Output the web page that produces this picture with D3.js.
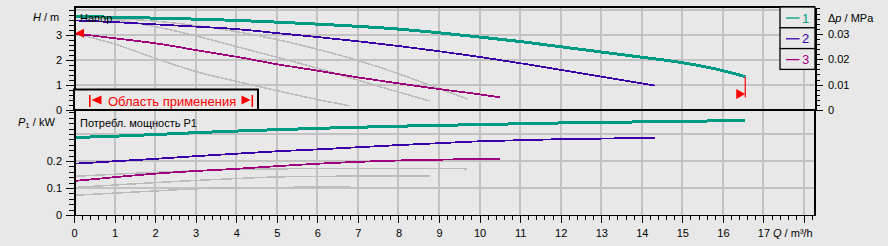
<!DOCTYPE html>
<html>
<head>
<meta charset="utf-8">
<script src="https://cdn.jsdelivr.net/npm/d3@7"></script>
<style>
  body { margin: 0; background: #e8e8e8; }
  svg { display: block; font-family: "Liberation Sans", Arial, sans-serif; }
</style>
</head>
<body>
<svg id="chart" width="888" height="246"></svg>
<script>
// Pump curves: head H (top) and power input P1 (bottom) against flow Q.

// speed 1 / 2 / 3 — flow, head, power input
const q1 = [0, 1, 2, 3, 4, 5, 6, 7, 8, 9, 10, 11, 12, 13, 14, 15, 16, 16.55];
const h1 = [3.75, 3.73, 3.69, 3.65, 3.60, 3.53, 3.45, 3.36, 3.25, 3.10, 2.93, 2.75, 2.54, 2.33, 2.12, 1.90, 1.58, 1.34];
const p1 = [0.287, 0.292, 0.298, 0.305, 0.311, 0.316, 0.321, 0.325, 0.329, 0.332, 0.335, 0.338, 0.341, 0.343, 0.345, 0.347, 0.349, 0.350];

const q2 = [0, 1, 2, 3, 4, 5, 6, 7, 8, 9, 10, 11, 12, 13, 14, 14.33];
const h2 = [3.60, 3.53, 3.44, 3.35, 3.25, 3.09, 2.93, 2.76, 2.57, 2.36, 2.13, 1.88, 1.61, 1.34, 1.07, 0.98];
const p2 = [0.190, 0.199, 0.208, 0.218, 0.227, 0.236, 0.243, 0.251, 0.259, 0.266, 0.273, 0.277, 0.281, 0.283, 0.285, 0.285];

const q3 = [0, 1, 2, 3, 4, 5, 6, 7, 8, 9, 10, 10.5];
const h3 = [3.08, 2.88, 2.68, 2.41, 2.14, 1.84, 1.58, 1.31, 1.07, 0.84, 0.63, 0.51];
const p3 = [0.126, 0.140, 0.153, 0.163, 0.171, 0.181, 0.190, 0.197, 0.202, 0.205, 0.207, 0.207];

// thin grey reference curves
const qGa = [0, 1, 2, 3, 4, 5, 6, 7, 8, 9, 9.4, 9.7];
const hGa = [3.71, 3.67, 3.57, 3.39, 3.15, 2.83, 2.44, 1.99, 1.46, 0.86, 0.62, 0.44];
const pGa = [0.143, 0.151, 0.158, 0.164, 0.169, 0.171, 0.172, 0.173, 0.173, 0.173, 0.173, 0.170];

const qGb = [0, 1, 2, 3, 4, 5, 6, 7, 8, 8.78];
const hGb = [3.72, 3.62, 3.35, 2.98, 2.55, 2.12, 1.68, 1.20, 0.72, 0.36];
const pGb = [0.102, 0.111, 0.120, 0.128, 0.135, 0.141, 0.143, 0.144, 0.145, 0.145];

const qGc = [0, 1, 2, 3, 4, 5, 6, 6.8];
const hGc = [3.08, 2.65, 2.08, 1.55, 1.15, 0.78, 0.42, 0.17];
const pGc = [0.073, 0.081, 0.089, 0.097, 0.101, 0.102, 0.104, 0.106];

// end-of-range marker on curve 1 (head of the red arrow, lower end of the red bar)
const markerH = 0.64;
const markerLowH = 0.51;

const legendNames = ["1", "2", "3"];
const colors = ["#009b84", "#3a00aa", "#a0007c"];
const widths = [3, 1.8, 1.8];

const hTicks = [0, 1, 2, 3];
const pTicks = [0, 0.1, 0.2];
const dpTicks = [0, 0.01, 0.02, 0.03];
const qTicks = d3.range(0, 19);

const svg = d3.select("#chart");
const bg = "#e8e8e8";

const x = d3.scaleLinear().domain([0, 18.27]).range([74, 815]);
const yH = d3.scaleLinear().domain([0, 4.137]).range([110, 7]);
const yDp = d3.scaleLinear().domain([0, 4.137 * 0.00981]).range([110, 7]);
const yP = d3.scaleLinear().domain([0, 0.389]).range([215, 110]);

// grid
const grid = svg.append("g").attr("stroke", "#c2c2c2").attr("stroke-width", 2).attr("shape-rendering", "crispEdges");
grid.selectAll(".vg").data(qTicks.slice(1)).enter().append("line")
  .attr("x1", d => x(d)).attr("x2", d => x(d)).attr("y1", 7).attr("y2", 215);
grid.selectAll(".hg").data([1, 2, 3, 4]).enter().append("line")
  .attr("x1", 74).attr("x2", 815).attr("y1", d => yH(d)).attr("y2", d => yH(d));
grid.selectAll(".pg").data([0.1, 0.2, 0.3]).enter().append("line")
  .attr("x1", 74).attr("x2", 815).attr("y1", d => yP(d)).attr("y2", d => yP(d));

const lineH = d3.line().x(d => x(d[0])).y(d => yH(d[1])).curve(d3.curveMonotoneX);
const lineP = d3.line().x(d => x(d[0])).y(d => yP(d[1])).curve(d3.curveMonotoneX);

// grey curves
const greys = [[qGa, hGa, pGa], [qGb, hGb, pGb], [qGc, hGc, pGc]];
greys.forEach(([q, h, p]) => {
  svg.append("path").attr("d", lineH(d3.zip(q, h)))
    .attr("fill", "none").attr("stroke", "#bcbcbc").attr("stroke-width", 1.5).attr("shape-rendering", "crispEdges");
  svg.append("path").attr("d", lineP(d3.zip(q, p)))
    .attr("fill", "none").attr("stroke", "#bcbcbc").attr("stroke-width", 1.5).attr("shape-rendering", "crispEdges");
});

// coloured curves, drawn 3 → 1 so the thick one lies on top
const main = [[q1, h1, p1], [q2, h2, p2], [q3, h3, p3]];
[2, 1, 0].forEach(i => {
  const [q, h, p] = main[i];
  svg.append("path").attr("d", lineH(d3.zip(q, h)))
    .attr("fill", "none").attr("stroke", colors[i]).attr("stroke-width", widths[i]).attr("shape-rendering", "crispEdges");
  svg.append("path").attr("d", lineP(d3.zip(q, p)))
    .attr("fill", "none").attr("stroke", colors[i]).attr("stroke-width", widths[i]).attr("shape-rendering", "crispEdges");
});

// red range markers
const red = "#ff0000";
const lx = x(q3[0]) + 1, ly = yH(h3[0]);
svg.append("path").attr("d", `M${lx},${ly} L${lx + 9},${ly - 4.5} L${lx + 9},${ly + 4.5} Z`).attr("fill", red);
const rx = x(q1[q1.length - 1]);
svg.append("line").attr("x1", rx).attr("x2", rx)
  .attr("y1", yH(h1[h1.length - 1])).attr("y2", yH(markerLowH))
  .attr("stroke", red).attr("stroke-width", 1.2);
const ry = yH(markerH);
svg.append("path").attr("d", `M${rx},${ry} L${rx - 9},${ry - 5} L${rx - 9},${ry + 5} Z`).attr("fill", red);

// frame
const frame = svg.append("g").attr("stroke", "#000").attr("shape-rendering", "crispEdges");
frame.append("line").attr("x1", 74).attr("x2", 815).attr("y1", 7).attr("y2", 7).attr("stroke-width", 2);
frame.append("line").attr("x1", 74).attr("x2", 815).attr("y1", 110).attr("y2", 110).attr("stroke-width", 2);
frame.append("line").attr("x1", 815).attr("x2", 815).attr("y1", 110).attr("y2", 215).attr("stroke-width", 2);

function styleAxis(g, size) {
  g.attr("font-family", null).attr("font-size", size).attr("shape-rendering", "crispEdges");
  g.selectAll("text").attr("fill", "#000");
  g.selectAll("line").attr("stroke", "#000");
  g.select(".domain").attr("stroke", "#000").attr("stroke-width", 2);
}

// left axes: minor, then major
svg.append("g").attr("transform", "translate(74,0)")
  .call(d3.axisLeft(yH).tickValues(d3.range(0, 4.13, 0.2)).tickSize(5).tickSizeOuter(0).tickFormat(""))
  .call(g => styleAxis(g, 11));
svg.append("g").attr("transform", "translate(74,0)")
  .call(d3.axisLeft(yH).tickValues(hTicks).tickSize(8).tickPadding(4).tickSizeOuter(0).tickFormat(d3.format("d")))
  .call(g => styleAxis(g, 11));
svg.append("g").attr("transform", "translate(74,0)")
  .call(d3.axisLeft(yP).tickValues(d3.range(0, 0.385, 0.02)).tickSize(5).tickSizeOuter(0).tickFormat(""))
  .call(g => styleAxis(g, 11));
svg.append("g").attr("transform", "translate(74,0)")
  .call(d3.axisLeft(yP).tickValues(pTicks).tickSize(8).tickPadding(4).tickSizeOuter(0).tickFormat(d => d === 0 ? "0" : d3.format(".1f")(d)))
  .call(g => styleAxis(g, 11));

// right axis: pressure difference
svg.append("g").attr("transform", "translate(815,0)")
  .call(d3.axisRight(yDp).tickValues(d3.range(0, 0.0405, 0.002)).tickSize(5).tickSizeOuter(0).tickFormat(""))
  .call(g => styleAxis(g, 11));
svg.append("g").attr("transform", "translate(815,0)")
  .call(d3.axisRight(yDp).tickValues(dpTicks).tickSize(8).tickPadding(5).tickSizeOuter(0).tickFormat(d => d === 0 ? "0" : d3.format(".2f")(d)))
  .call(g => styleAxis(g, 11));

// bottom axis
svg.append("g").attr("transform", "translate(0,215)")
  .call(d3.axisBottom(x).tickValues(d3.range(0, 18.3, 0.2)).tickSize(5).tickSizeOuter(0).tickFormat(""))
  .call(g => styleAxis(g, 11))
  .call(g => g.select(".domain").attr("stroke-width", 1.5));
svg.append("g").attr("transform", "translate(0,215)")
  .call(d3.axisBottom(x).tickValues(qTicks).tickSize(8).tickPadding(6).tickSizeOuter(0).tickFormat(d => d === 18 ? "" : d))
  .call(g => styleAxis(g, 11))
  .call(g => g.select(".domain").attr("stroke-width", 1.5));

// axis titles
const t = svg.append("g").attr("font-size", 11).attr("fill", "#000");
const hT = t.append("text").attr("x", 33).attr("y", 21);
hT.append("tspan").attr("font-style", "italic").text("H");
hT.append("tspan").text(" / m");

const pT = t.append("text").attr("x", 18).attr("y", 126);
pT.append("tspan").attr("font-style", "italic").text("P");
pT.append("tspan").attr("font-size", 8).attr("dy", 2).text("1");
pT.append("tspan").attr("dy", -2).text(" / kW");

const dT = t.append("text").attr("x", 828).attr("y", 22);
dT.append("tspan").text("Δ");
dT.append("tspan").attr("font-style", "italic").text("p");
dT.append("tspan").text(" / MPa");

const qT = t.append("text").attr("x", 773).attr("y", 237);
qT.append("tspan").attr("font-style", "italic").text("Q");
qT.append("tspan").text(" / m³/h");

t.append("text").attr("x", 80).attr("y", 21.5).text("Напор");
t.append("text").attr("x", 80).attr("y", 127).text("Потребл. мощность P1");

// legend box
const leg = svg.append("g").attr("transform", "translate(780,7)");
legendNames.forEach((name, i) => {
  const row = leg.append("g").attr("transform", `translate(0,${i * 20.8})`);
  row.append("rect").attr("width", 35).attr("height", 20.8)
    .attr("fill", bg).attr("stroke", "#000").attr("stroke-width", 1.3);
  row.append("line").attr("x1", 6).attr("x2", 19.5).attr("y1", 11).attr("y2", 11)
    .attr("stroke", colors[i]).attr("stroke-width", 1.3);
  row.append("text").attr("x", 22).attr("y", 15.5).attr("font-size", 13)
    .attr("fill", colors[i]).text(name);
});

// application range box
const box = svg.append("g");
box.append("rect").attr("x", 74).attr("y", 89.5).attr("width", 184).attr("height", 20.5)
  .attr("fill", bg).attr("stroke", "#000").attr("stroke-width", 2);
box.append("rect").attr("x", 89).attr("y", 95).attr("width", 1.6).attr("height", 12).attr("fill", red);
box.append("path").attr("d", "M91.5,100 L101.5,95.5 L101.5,104.5 Z").attr("fill", red);
box.append("text").attr("x", 108).attr("y", 105.5).attr("font-size", 13).attr("fill", red).text("Область применения");
box.append("path").attr("d", "M250.5,100 L241.5,95.5 L241.5,104.5 Z").attr("fill", red);
box.append("rect").attr("x", 251.5).attr("y", 95).attr("width", 1.6).attr("height", 12).attr("fill", red);
</script>
</body>
</html>
